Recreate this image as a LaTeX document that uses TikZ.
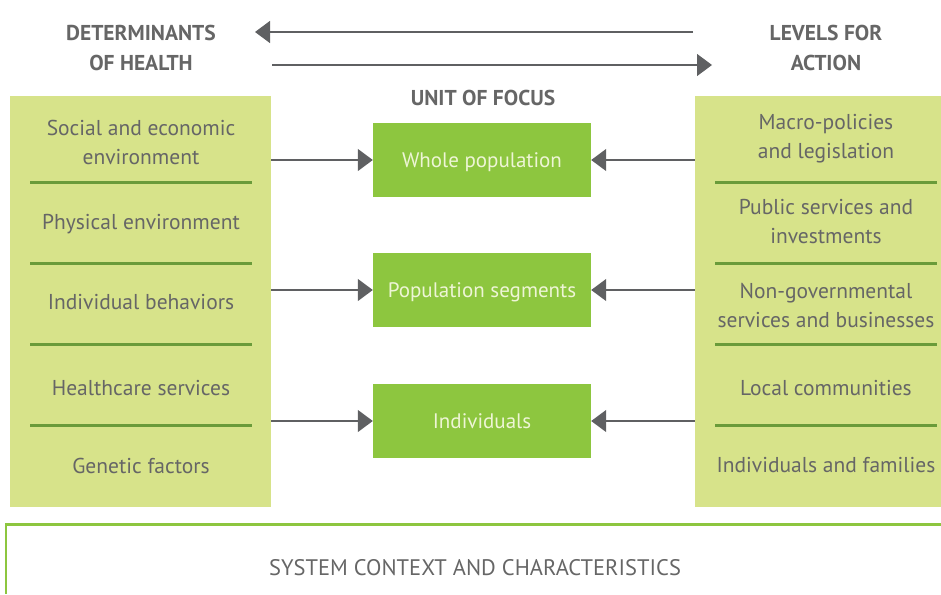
\documentclass[tikz,border=0pt]{standalone}
\usepackage{fontspec}
\setmainfont{PT Sans}
\usetikzlibrary{positioning,calc,arrows.meta}
\definecolor{txtgray}{HTML}{666666}
\definecolor{arrgray}{HTML}{5F6062}
\definecolor{panelgreen}{HTML}{D7E38A}
\definecolor{boxgreen}{HTML}{8DC63F}
\definecolor{linegreen}{HTML}{6A9B3A}
\definecolor{boxtxt}{HTML}{EEF5D6}
\tikzset{
  panel/.style={fill=panelgreen, inner sep=0pt, minimum height=411pt},
  unitbox/.style={fill=boxgreen, inner sep=0pt, minimum width=218pt, minimum height=74pt,
    text height=18pt, text depth=3pt, text=boxtxt, font=\fontsize{21}{24}\selectfont},
  item/.style={text=txtgray, align=center, font=\fontsize{21.5}{29}\selectfont},
  heading/.style={text=txtgray, align=center, font=\fontsize{21.5}{30}\selectfont\bfseries},
  divider/.style={draw=linegreen, line width=3pt},
  flow/.style={draw=arrgray, line width=1.2pt, -{Triangle[length=15pt,width=22pt]}}
}
\begin{document}
\begin{tikzpicture}[x=1pt,y=-1pt]
    \useasboundingbox (0,0) rectangle (941,594);

    % headings
    \node[heading] (det) at (141,48) {DETERMINANTS\\OF HEALTH};
    \node[heading] (lev) at (826,48) {LEVELS FOR\\ACTION};
    \node[heading] (unit) at (483,98) {UNIT OF FOCUS};
    \coordinate (topR) at (693,32);
    \coordinate (topL) at (255,32);
    \coordinate (botL) at (272,65);
    \coordinate (botR) at (712,65);
    \draw[flow] (topR) -- (topL);
    \draw[flow] (botL) -- (botR);

    % side panels
    \node[panel, minimum width=261pt] (detpanel) at (140.5,301.5) {};
    \node[panel, minimum width=246pt] (levpanel) at (818,301.5) {};
    \foreach \y in {182,263,344,425} {
        \draw[divider] (30,\y) -- (252,\y);
        \draw[divider] (715,\y) -- (937,\y);
    }

    \node[item] (d1) at (141,142) {Social and economic\\environment};
    \node[item] (d2) at (141,224) {Physical environment};
    \node[item] (d3) at (141,302) {Individual behaviors};
    \node[item] (d4) at (141,388) {Healthcare services};
    \node[item] (d5) at (141,466) {Genetic factors};

    \node[item] (l1) at (826,139) {Macro-policies\\and legislation};
    \node[item] (l2) at (826,222) {Public services and\\investments};
    \node[item] (l3) at (826,305) {Non-governmental\\services and businesses};
    \node[item] (l4) at (826,388) {Local communities};
    \node[item] (l5) at (826,465) {Individuals and families};

    % unit of focus
    \node[unitbox] (whole) at (482,160) {Whole population};
    \node[unitbox] (segs) at (482,290) {Population segments};
    \node[unitbox] (indiv) at (482,421) {Individuals};
    \foreach \b in {whole,segs,indiv} {
        \draw[flow] (detpanel.east |- \b.west) -- (\b.west);
        \draw[flow] (levpanel.west |- \b.east) -- (\b.east);
    }

    % system context
    \draw[boxgreen, line width=3pt] (941,524) -- (6,524);
    \draw[boxgreen, line width=1.5pt] (6,523) -- (6,594);
    \node[text=txtgray, font=\fontsize{22.5}{24}\selectfont] (ctx) at (475,568) {SYSTEM CONTEXT AND CHARACTERISTICS};
\end{tikzpicture}
\end{document}
